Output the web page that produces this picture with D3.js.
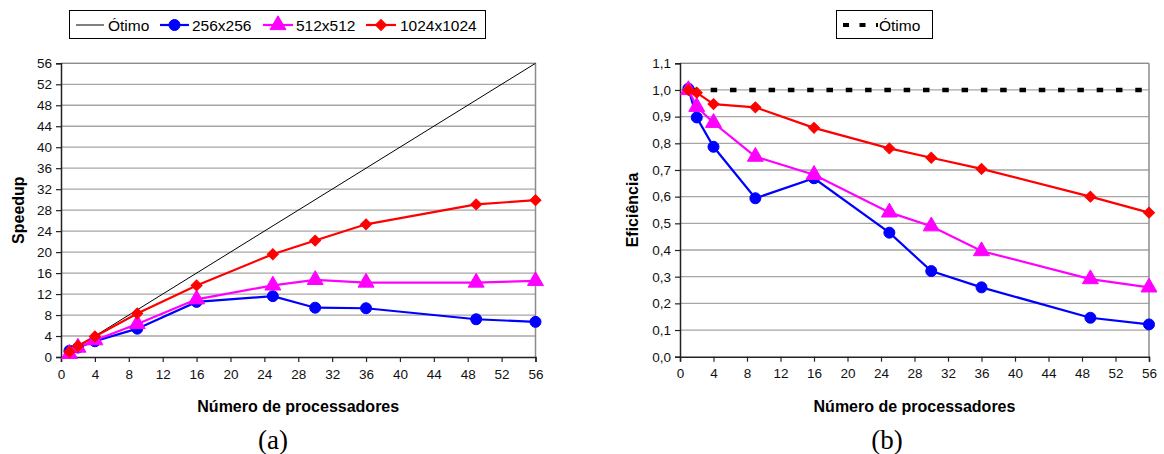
<!DOCTYPE html>
<html><head><meta charset="utf-8">
<script src="https://cdn.jsdelivr.net/npm/d3@7"></script>
<style>body{margin:0;background:#fff}svg{display:block;font-family:Arial,"Liberation Sans",sans-serif}</style>
</head><body><svg id="c" width="1164" height="454"></svg>
<script>
const procs = [1, 2, 4, 9, 16, 25, 30, 36, 49, 56];
const seriesNames = ["256x256", "512x512", "1024x1024"];
const speedup256 = [1.2, 1.8, 3.0, 5.4, 10.5, 11.6, 9.4, 9.3, 7.2, 6.7];
const speedup512 = [0.6, 1.8, 3.2, 6.3, 11.0, 13.65, 14.7, 14.2, 14.2, 14.5];
const speedup1024 = [1.0, 2.1, 3.9, 8.3, 13.65, 19.6, 22.2, 25.3, 29.1, 29.9];
const eff256 = [1.005, 0.897, 0.787, 0.594, 0.669, 0.465, 0.321, 0.26, 0.146, 0.121];
const eff512 = [1.0, 0.937, 0.877, 0.75, 0.682, 0.541, 0.489, 0.396, 0.291, 0.26];
const eff1024 = [1.0, 0.99, 0.947, 0.935, 0.858, 0.781, 0.746, 0.704, 0.60, 0.54];
const optimoSpeedupX = [1, 56];
const optimoEff = 1.0;
const xTicks = [0,4,8,12,16,20,24,28,32,36,40,44,48,52,56];
const ySpeedTicks = [0,4,8,12,16,20,24,28,32,36,40,44,48,52,56];
const yEffTicks = [0,0.1,0.2,0.3,0.4,0.5,0.6,0.7,0.8,0.9,1.0,1.1];

const colors = ["#0000ff", "#ff00ff", "#ff0000"];
const shapes = [d3.symbolCircle, d3.symbolTriangle, d3.symbolSquare];
const sizes = [95, 110, 60];
const svg = d3.select("#c");
const fmtComma = d => d3.format(".1f")(d).replace(".", ",");

function drawMarker(g, i, x, y) {
  const sym = d3.symbol().type(shapes[i]).size(sizes[i]);
  let tr = `translate(${x},${y})`;
  if (i === 2) tr += " rotate(45)";
  g.append("path").attr("d", sym()).attr("transform", tr).attr("fill", colors[i]).attr("stroke", colors[i]).attr("stroke-width", 1);
}

function panel(opt) {
  const {x0, x1, y0, y1, yDomain, yTicks, yFmt, data, yTitle, titleX, label, labelX} = opt;
  const g = svg.append("g");
  const x = d3.scaleLinear().domain([0, 56]).range([x0, x1]);
  const y = d3.scaleLinear().domain(yDomain).range([y1, y0]);
  g.append("g").selectAll("line").data(yTicks.slice(1)).join("line")
    .attr("x1", x0).attr("x2", x1).attr("y1", d => y(d)).attr("y2", d => y(d))
    .attr("stroke", "#a6a6a6").attr("stroke-width", 1.3);
  g.append("line").attr("x1", x1).attr("x2", x1).attr("y1", y0).attr("y2", y1).attr("stroke", "#8c8c8c").attr("stroke-width", 1.5);
  g.append("line").attr("x1", x0).attr("x2", x1).attr("y1", y0).attr("y2", y0).attr("stroke", "#8c8c8c").attr("stroke-width", 1.3);
  const ax = g.append("g").attr("transform", `translate(0,${y1})`)
    .call(d3.axisBottom(x).tickValues(xTicks).tickSize(5).tickPadding(7).tickFormat(d3.format("d")));
  const ay = g.append("g").attr("transform", `translate(${x0},0)`)
    .call(d3.axisLeft(y).tickValues(yTicks).tickSize(5).tickPadding(4).tickFormat(yFmt));
  [ax, ay].forEach(a => {
    a.attr("font-family", null);
    a.select(".domain").attr("stroke", "#222").attr("stroke-width", 1.5);
    a.selectAll(".tick line").attr("stroke", "#222").attr("stroke-width", 1.2);
    a.selectAll("text").attr("font-size", 13.5).attr("fill", "#111");
  });
  ax.selectAll("text").attr("dy", "0.71em");
  opt.optimo(g, x, y);
  data.forEach((vals, i) => {
    const line = d3.line().x((d, j) => x(procs[j])).y(d => y(d));
    g.append("path").attr("d", line(vals)).attr("fill", "none").attr("stroke", colors[i]).attr("stroke-width", 2.2);
  });
  data.forEach((vals, i) => {
    vals.forEach((v, j) => drawMarker(g, i, x(procs[j]), y(v)));
  });
  g.append("text").attr("x", (x0 + x1) / 2).attr("y", 406).attr("text-anchor", "middle").attr("dominant-baseline", "central")
    .attr("font-weight", "bold").attr("font-size", 16).text("Número de processadores");
  g.append("text").attr("transform", `translate(${titleX},${(y0 + y1) / 2}) rotate(-90)`).attr("text-anchor", "middle")
    .attr("dominant-baseline", "central").attr("font-weight", "bold").attr("font-size", 16).text(yTitle);
  g.append("text").attr("x", labelX).attr("y", 440).attr("text-anchor", "middle").attr("dominant-baseline", "central")
    .attr("font-family", '"Liberation Serif","Times New Roman",serif').attr("font-size", 27).text(label);
}

panel({
  x0: 61, x1: 535.5, y0: 63.3, y1: 357, yDomain: [0, 56], yTicks: ySpeedTicks, yFmt: d3.format("d"),
  data: [speedup256, speedup512, speedup1024], yTitle: "Speedup", titleX: 18, label: "(a)", labelX: 273,
  optimo: (g, x, y) => {
    g.append("line").attr("x1", x(optimoSpeedupX[0])).attr("y1", y(optimoSpeedupX[0]))
      .attr("x2", x(optimoSpeedupX[1])).attr("y2", y(optimoSpeedupX[1])).attr("stroke", "#000").attr("stroke-width", 1);
  }
});
panel({
  x0: 680, x1: 1149, y0: 63.3, y1: 356.7, yDomain: [0, 1.1], yTicks: yEffTicks, yFmt: fmtComma,
  data: [eff256, eff512, eff1024], yTitle: "Eficiência", titleX: 632, label: "(b)", labelX: 887,
  optimo: (g, x, y) => {
    g.append("line").attr("x1", x(procs[0])).attr("x2", x(procs[procs.length - 1])).attr("y1", y(optimoEff)).attr("y2", y(optimoEff))
      .attr("stroke", "#000").attr("stroke-width", 4.5).attr("stroke-dasharray", "6.5,12.8").attr("stroke-dashoffset", -3);
  }
});

const lg = svg.append("g");
lg.append("rect").attr("x", 69.5).attr("y", 10.5).attr("width", 416).attr("height", 28).attr("fill", "#fff").attr("stroke", "#000").attr("stroke-width", 1);
const legItems = [
  {x1: 76, x2: 104, tx: 108, text: "Ótimo", s: -1},
  {x1: 160, x2: 189, tx: 192, text: seriesNames[0], s: 0},
  {x1: 263, x2: 293, tx: 296, text: seriesNames[1], s: 1},
  {x1: 366, x2: 396, tx: 400, text: seriesNames[2], s: 2}
];
legItems.forEach(it => {
  lg.append("line").attr("x1", it.x1).attr("x2", it.x2).attr("y1", 25).attr("y2", 25)
    .attr("stroke", it.s < 0 ? "#000" : colors[it.s]).attr("stroke-width", it.s < 0 ? 1 : 2.2);
  if (it.s >= 0) drawMarker(lg, it.s, (it.x1 + it.x2) / 2, 25);
  lg.append("text").attr("x", it.tx).attr("y", 25).attr("dominant-baseline", "central").attr("font-size", 15.5).text(it.text);
});
const lg2 = svg.append("g");
lg2.append("rect").attr("x", 836.5).attr("y", 10.5).attr("width", 96).attr("height", 28).attr("fill", "#fff").attr("stroke", "#000").attr("stroke-width", 1);
lg2.append("line").attr("x1", 843).attr("x2", 878).attr("y1", 25).attr("y2", 25).attr("stroke", "#000").attr("stroke-width", 4)
  .attr("stroke-dasharray", "6,10.5");
lg2.append("text").attr("x", 879).attr("y", 25).attr("dominant-baseline", "central").attr("font-size", 15.5).text("Ótimo");
</script></body></html>
